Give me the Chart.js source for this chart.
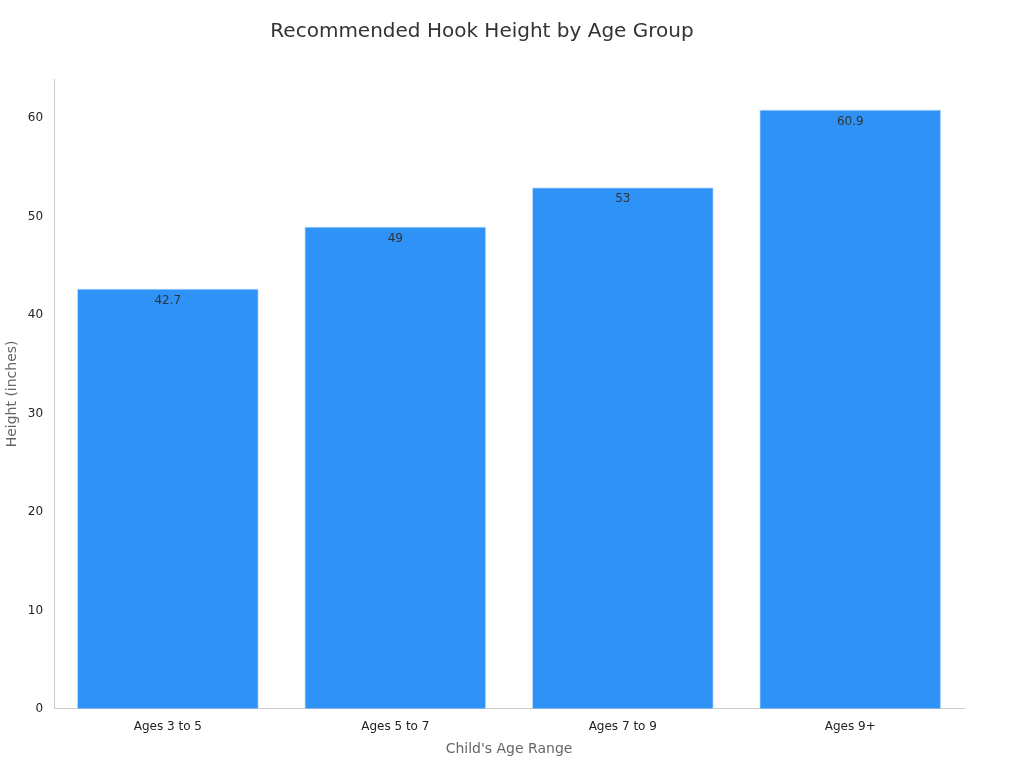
<!DOCTYPE html>
<html><head><meta charset="utf-8">
<script src="https://cdn.jsdelivr.net/npm/chart.js@4"></script>
<style>html,body{margin:0;padding:0;background:#fff}#w{width:1024px;height:768px}</style>
</head><body><div id="w"><canvas id="c"></canvas></div>
<script>
const categories = ["Ages 3 to 5","Ages 5 to 7","Ages 7 to 9","Ages 9+"];
const heights = [42.7, 49, 53, 60.9];
const labels = ["42.7","49","53","60.9"];
const valueLabels = {
  id:'valueLabels',
  afterDatasetsDraw(chart){
    const ctx=chart.ctx, meta=chart.getDatasetMeta(0);
    ctx.save();ctx.font='12px "DejaVu Sans"';ctx.fillStyle='#333';ctx.textAlign='center';ctx.textBaseline='top';
    meta.data.forEach((b,i)=>ctx.fillText(labels[i],b.x,b.y+6));
    ctx.restore();
  }
};
new Chart(document.getElementById('c'),{
  type:'bar',
  data:{labels:categories,datasets:[{data:heights,backgroundColor:'#2f92f7',borderColor:'#d0e4fb',borderWidth:1,barPercentage:0.8,categoryPercentage:1}]},
  options:{
    responsive:true,maintainAspectRatio:false,animation:false,
    layout:{padding:{left:0,right:60,top:10,bottom:6}},
    plugins:{legend:{display:false},tooltip:{enabled:false},
      title:{display:true,text:'Recommended Hook Height by Age Group',color:'#333',font:{family:'DejaVu Sans',size:20,weight:'normal'},padding:{top:10,bottom:35}}},
    scales:{
      x:{grid:{display:false,drawTicks:true},border:{color:'#ccc'},ticks:{color:'#222',font:{family:'DejaVu Sans',size:12}},
        title:{display:true,text:"Child's Age Range",color:'#666',font:{family:'DejaVu Sans',size:14}}},
      y:{min:0,max:64,grid:{display:false},border:{color:'#ccc'},
        ticks:{stepSize:10,color:'#222',font:{family:'DejaVu Sans',size:12}},
        afterBuildTicks(s){s.ticks=[0,10,20,30,40,50,60].map(v=>({value:v}));},
        title:{display:true,text:'Height (inches)',color:'#666',font:{family:'DejaVu Sans',size:14}}}
    }
  },
  plugins:[valueLabels]
});
</script></body></html>
